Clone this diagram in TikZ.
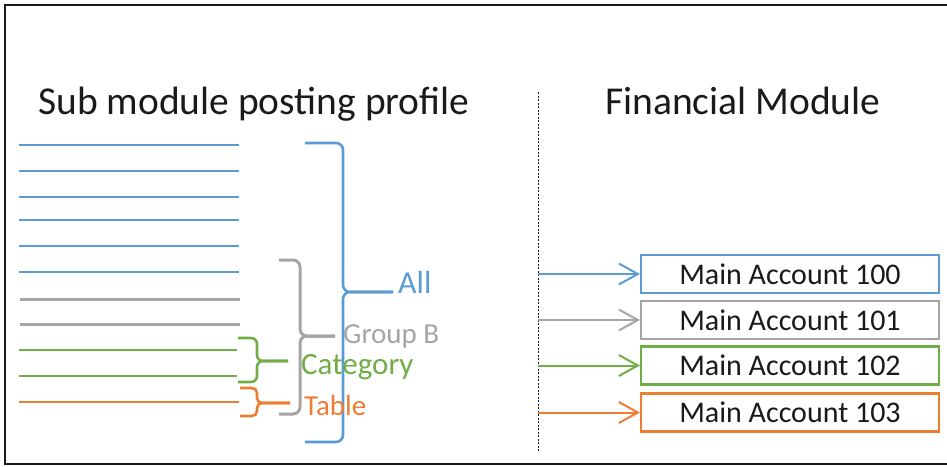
\documentclass[tikz,border=0pt]{standalone}
\usepackage{fontspec}
\setmainfont{Carlito}
\usetikzlibrary{arrows.meta}
\definecolor{ink}{HTML}{1A1A1A}
\definecolor{sky}{HTML}{5B9BD5}
\definecolor{stone}{HTML}{A5A5A5}
\definecolor{leaf}{HTML}{70AD47}
\definecolor{amber}{HTML}{ED7D31}

\begin{document}
\begin{tikzpicture}[x=1pt,y=-1pt,text=ink,
    >={Straight Barb[length=19pt,width=21pt]},
    head/.style={anchor=base west,inner sep=0pt,font=\fontsize{39.5}{47}\selectfont},
    lbl/.style={anchor=base west,inner sep=0pt},
    acct/.style={draw,line width=2.2pt,minimum width=298pt,minimum height=38pt,
      inner sep=0pt,font=\fontsize{30}{36}\selectfont},
    brc/.style={line width=2.6pt,rounded corners=7pt}]
  \useasboundingbox (0,0) rectangle (947,466);
  \draw[ink,line width=2pt] (947,5) -- (5,5) -- (5,464) -- (947,464);

  \node[head] (sub) at (38,114) {Sub module posting profile};
  \node[head] (fin) at (605,114) {Financial Module};
  \draw[ink,line width=1pt,dash pattern=on 2pt off 1.5pt] (538,92) -- (538,452);

  \draw[sky,line width=2.5pt] (19,145) -- (239,145) (19,171) -- (239,171)
    (19,197) -- (239,197) (19,220) -- (239,220) (19,246) -- (239,246)
    (19,272) -- (239,272);
  \draw[stone,line width=3pt] (20,299) -- (240,299) (20,324) -- (240,324);
  \draw[leaf,line width=2.5pt] (19,350) -- (237,350) (19,376) -- (237,376);
  \draw[amber,line width=2.5pt] (19,402) -- (239,402);

  \coordinate (allTip) at (393,292);
  \coordinate (grpTip) at (335,336);
  \coordinate (catTip) at (288,361);
  \coordinate (tabTip) at (290,403);
  \draw[sky,brc] (305,143) -| (343,292) -- (allTip);
  \draw[sky,brc] (305,442) -| (343,292) -- (allTip);
  \draw[stone,brc,line width=3pt] (279,260) -| (300,336) -- (grpTip);
  \draw[stone,brc,line width=3pt] (279,414) -| (300,336) -- (grpTip);
  \draw[leaf,brc,rounded corners=6pt] (238,338) -| (257,361) -- (catTip);
  \draw[leaf,brc,rounded corners=6pt] (238,382) -| (257,361) -- (catTip);
  \draw[amber,brc,rounded corners=5pt] (240,388) -| (257,403) -- (tabTip);
  \draw[amber,brc,rounded corners=5pt] (240,416) -| (257,403) -- (tabTip);

  \node[lbl,text=sky,font=\fontsize{32}{38}\selectfont] (all) at (398,293) {All};
  \node[lbl,text=stone,font=\fontsize{29}{35}\selectfont] (grp) at (343,343) {Group B};
  \node[lbl,text=leaf,font=\fontsize{31}{37}\selectfont] (cat) at (301,374) {Category};
  \node[lbl,text=amber,font=\fontsize{29}{35}\selectfont] (tab) at (304,415) {Table};

  \node[acct,draw=sky] (acc100) at (790,274) {Main Account 100};
  \node[acct,draw=stone] (acc101) at (790,320) {Main Account 101};
  \node[acct,draw=leaf] (acc102) at (790,365.5) {Main Account 102};
  \node[acct,draw=amber] (acc103) at (790,412.5) {Main Account 103};

  \coordinate (s100) at (538,274);
  \coordinate (s101) at (538,320);
  \coordinate (s102) at (538,365.5);
  \coordinate (s103) at (538,412.5);
  \draw[sky,line width=2pt,->] (s100) -- (acc100.west);
  \draw[stone,line width=2pt,->] (s101) -- (acc101.west);
  \draw[leaf,line width=2pt,->] (s102) -- (acc102.west);
  \draw[amber,line width=2pt,->] (s103) -- (acc103.west);
\end{tikzpicture}
\end{document}
